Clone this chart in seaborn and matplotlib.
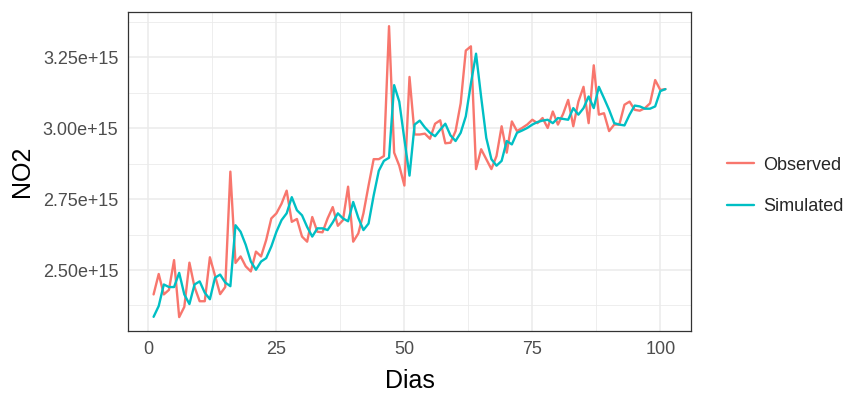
import numpy as np
import pandas as pd
import matplotlib
matplotlib.use("Agg")
import matplotlib.pyplot as plt
import seaborn as sns
from matplotlib.ticker import FuncFormatter, MultipleLocator

# NO2 column values, in units of 1e15
observed = [2.414, 2.486, 2.414, 2.430, 2.535, 2.334, 2.370, 2.526, 2.440, 2.390,
            2.390, 2.545, 2.480, 2.415, 2.440, 2.847, 2.525, 2.548, 2.513, 2.495,
            2.565, 2.548, 2.606, 2.682, 2.700, 2.734, 2.780, 2.670, 2.680, 2.618,
            2.600, 2.687, 2.635, 2.633, 2.682, 2.722, 2.656, 2.676, 2.794, 2.600,
            2.629, 2.700, 2.798, 2.891, 2.891, 2.902, 3.360, 2.914, 2.868, 2.798,
            3.181, 2.978, 2.978, 2.981, 2.963, 3.016, 3.028, 2.947, 2.949, 2.990,
            3.088, 3.274, 3.289, 2.856, 2.926, 2.891, 2.856, 2.902, 3.007, 2.914,
            3.024, 2.990, 3.001, 3.013, 3.030, 3.018, 3.036, 3.001, 3.059, 3.013,
            3.050, 3.100, 3.007, 3.094, 3.146, 3.018, 3.222, 3.048, 3.053, 2.990,
            3.013, 3.013, 3.083, 3.094, 3.065, 3.062, 3.071, 3.088, 3.170, 3.135,
            3.138]
simulated = [2.335, 2.373, 2.449, 2.440, 2.440, 2.490, 2.414, 2.380, 2.449, 2.460,
             2.420, 2.397, 2.473, 2.484, 2.456, 2.443, 2.658, 2.635, 2.589, 2.530,
             2.501, 2.530, 2.542, 2.583, 2.635, 2.676, 2.700, 2.757, 2.711, 2.693,
             2.652, 2.618, 2.647, 2.647, 2.641, 2.668, 2.700, 2.682, 2.672, 2.740,
             2.684, 2.641, 2.664, 2.763, 2.850, 2.885, 2.896, 3.152, 3.094, 2.961,
             2.833, 3.013, 3.027, 3.003, 2.984, 2.972, 2.995, 3.016, 2.975, 2.955,
             2.984, 3.042, 3.158, 3.263, 3.110, 2.966, 2.891, 2.868, 2.885, 2.955,
             2.943, 2.984, 2.992, 3.001, 3.013, 3.022, 3.027, 3.030, 3.018, 3.036,
             3.033, 3.030, 3.071, 3.048, 3.071, 3.112, 3.071, 3.146, 3.106, 3.065,
             3.018, 3.013, 3.010, 3.048, 3.080, 3.077, 3.069, 3.069, 3.077, 3.131,
             3.138]
dias = list(range(1, len(observed) + 1))

df = pd.DataFrame({
    "Dias": dias * 2,
    "NO2": np.array(observed + simulated) * 1e15,
    "serie": ["Observed"] * len(observed) + ["Simulated"] * len(simulated),
})

sns.set_style("white")
plt.rcParams["font.family"] = ["Liberation Sans", "DejaVu Sans"]

fig = plt.figure(figsize=(8.59, 3.98), dpi=100)
ax = fig.add_axes([128 / 859, 1 - 331 / 398, (691 - 128) / 859, (331 - 12) / 398])

sns.lineplot(data=df, x="Dias", y="NO2", hue="serie",
             palette={"Observed": "#F8766D", "Simulated": "#00BFC4"},
             linewidth=1.7, ax=ax, zorder=3)

ax.set_xlim(-4, 106)
ax.set_ylim(2.285e15, 3.41e15)
ax.xaxis.set_major_locator(MultipleLocator(25))
ax.xaxis.set_minor_locator(MultipleLocator(12.5))
ax.yaxis.set_major_locator(MultipleLocator(0.25e15))
ax.yaxis.set_minor_locator(MultipleLocator(0.125e15))
ax.yaxis.set_major_formatter(FuncFormatter(lambda v, p: f"{v / 1e15:.2f}e+15"))

ax.grid(which="major", color="#EBEBEB", linewidth=1.1, zorder=0)
ax.grid(which="minor", color="#EBEBEB", linewidth=0.6, zorder=0)
ax.set_axisbelow(True)
for s in ax.spines.values():
    s.set_color("#333333")
    s.set_linewidth(0.9)

ax.tick_params(which="major", length=4, width=0.9, color="#333333",
               labelcolor="#4D4D4D", labelsize=13, pad=3)
ax.tick_params(which="minor", length=0)

ax.set_xlabel("Dias", fontsize=18, color="black", labelpad=8)
ax.set_ylabel("NO2", fontsize=18, color="black", labelpad=6)

handles, labels = ax.get_legend_handles_labels()
ax.legend(handles, labels, loc="center left", bbox_to_anchor=(1.035, 0.455),
          frameon=False, fontsize=13, handlelength=1.5, handletextpad=0.5,
          labelspacing=1.35, title=None)

fig.savefig("out.png", dpi=100)
